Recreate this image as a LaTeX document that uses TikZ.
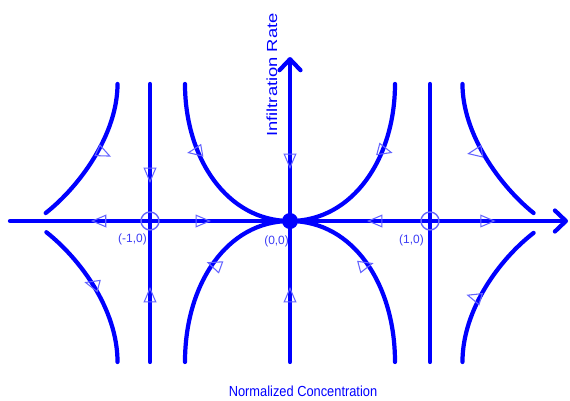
\documentclass[tikz,border=0pt]{standalone}
\usepackage{fontspec}
\setmainfont{Liberation Sans}
\usetikzlibrary{arrows.meta,shapes.geometric}
\definecolor{flowblue}{RGB}{0,0,255}
\definecolor{paleblue}{RGB}{100,100,255}
\definecolor{textblue}{RGB}{60,60,245}

\begin{document}
\begin{tikzpicture}[x=2.8cm,y=2.8cm,
  curve/.style={draw=flowblue,line width=2.4pt,line cap=round},
  axis/.style={curve,-{Straight Barb[length=2.2mm,width=4.2mm,round]}},
  flowtip/.style={draw=paleblue,line width=0.6pt,isosceles triangle,isosceles triangle stretches,inner sep=0pt,minimum width=2.3mm,minimum height=2.7mm},
  ptlabel/.style={text=textblue,font=\fontsize{6.8}{8}\selectfont,inner sep=0pt},
  axlabel/.style={text=flowblue,font=\fontsize{8.3}{10}\selectfont,inner sep=0pt}]
\useasboundingbox (-2.0714,-1.2786) rectangle (2.0,1.5786);
\coordinate (O) at (0,0);
\coordinate (L) at (-1,0);
\coordinate (R) at (1,0);
\coordinate (W) at (-2,0);
\coordinate (E) at (1.986,0);
\coordinate (S) at (0,-1.007);
\coordinate (N) at (0,1.171);
\coordinate (Lt) at (-1,0.979);
\coordinate (Lb) at (-1,-1.007);
\coordinate (Rt) at (1,0.979);
\coordinate (Rb) at (1,-1.007);
\coordinate (iUL) at (-0.75,0.979);
\coordinate (iLL) at (-0.75,-1.007);
\coordinate (iUR) at (0.75,0.979);
\coordinate (iLR) at (0.75,-1.007);
\coordinate (oULt) at (-1.232,0.979);
\coordinate (oULe) at (-1.745,0.057);
\coordinate (oLLb) at (-1.232,-1.007);
\coordinate (oLLe) at (-1.74,-0.08);
\coordinate (oURt) at (1.232,0.979);
\coordinate (oURe) at (1.74,0.057);
\coordinate (oLRb) at (1.232,-1.007);
\coordinate (oLRe) at (1.74,-0.085);

\draw[axis] (W)--(E);
\draw[axis] (S)--(N);
\draw[curve] (Lt)--(Lb);
\draw[curve] (Rt)--(Rb);
\draw[curve] (iUL) .. controls (-0.75,0.45) and (-0.45,0) .. (O);
\draw[curve] (iLL) .. controls (-0.75,-0.45) and (-0.45,0) .. (O);
\draw[curve] (iUR) .. controls (0.75,0.45) and (0.45,0) .. (O);
\draw[curve] (iLR) .. controls (0.75,-0.45) and (0.45,0) .. (O);
\draw[curve] (oULt) .. controls (-1.232,0.62) and (-1.5,0.25) .. (oULe);
\draw[curve] (oLLb) .. controls (-1.232,-0.63) and (-1.5,-0.27) .. (oLLe);
\draw[curve] (oURt) .. controls (1.232,0.62) and (1.5,0.25) .. (oURe);
\draw[curve] (oLRb) .. controls (1.232,-0.63) and (1.5,-0.27) .. (oLRe);

\node[flowtip,rotate=180] (h1) at (-1.343,0) {};
\node[flowtip] (h2) at (-0.643,0) {};
\node[flowtip,rotate=180] (h3) at (0.629,0) {};
\node[flowtip] (h4) at (1.39,0) {};
\node[flowtip,rotate=-90] (v1) at (0,0.45) {};
\node[flowtip,rotate=90] (v2) at (0,-0.55) {};
\node[flowtip,rotate=-90] (v3) at (-1,0.35) {};
\node[flowtip,rotate=90] (v4) at (-1,-0.55) {};
\node[flowtip,rotate=-25] (c1) at (-1.35,0.493) {};
\node[flowtip,rotate=190] (c2) at (-0.657,0.5) {};
\node[flowtip,rotate=-15] (c3) at (0.657,0.507) {};
\node[flowtip,rotate=190] (c4) at (1.343,0.493) {};
\node[flowtip,rotate=165] (c5) at (-1.393,-0.457) {};
\node[flowtip,rotate=160] (c6) at (-0.521,-0.321) {};
\node[flowtip,rotate=15] (c7) at (0.521,-0.321) {};
\node[flowtip,rotate=163] (c8) at (1.336,-0.55) {};

\node[draw=paleblue,line width=0.8pt,circle,inner sep=0pt,minimum size=3.6mm] (Lc) at (L) {};
\node[draw=paleblue,line width=0.8pt,circle,inner sep=0pt,minimum size=3.6mm] (Rc) at (R) {};
\node[fill=flowblue,circle,inner sep=0pt,minimum size=3.2mm] (Oc) at (O) {};

\node[ptlabel] (Ll) at (-1.125,-0.132) {(-1,0)};
\node[ptlabel] (Ol) at (-0.096,-0.143) {(0,0)};
\node[ptlabel] (Rl) at (0.868,-0.136) {(1,0)};
\node[axlabel,rotate=90] (ylab) at (-0.129,1.043) {\scalebox{1.26}[1]{Infiltration Rate}};
\node[axlabel,anchor=base] (xlab) at (0.093,-1.25) {\scalebox{0.88}[1]{Normalized Concentration}};
\end{tikzpicture}
\end{document}
